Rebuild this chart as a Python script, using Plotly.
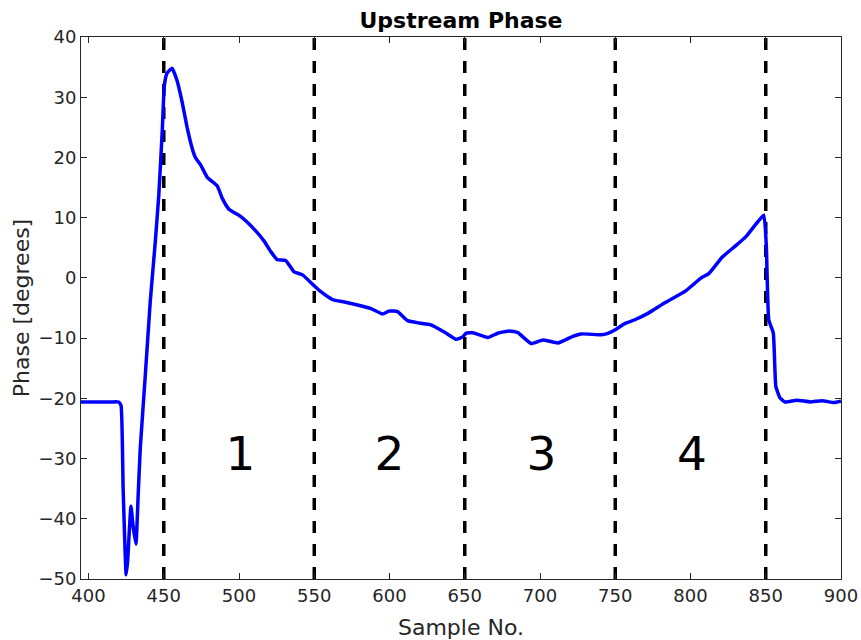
import plotly.graph_objects as go

# Curve data (sample number, phase in degrees)
sample_no = [395, 405, 415, 420, 421.6, 423, 425, 426, 428.2, 429.5, 431.5, 433, 434.4, 437.8,
             441, 444.4, 446.7, 449, 450.4, 452.2, 455.5, 458.9, 462.2, 465.5, 468.9, 471,
             474.4, 478.9, 485.5, 488.9, 493.3, 501, 510, 516.7, 521, 525.5, 531, 536.6,
             542.2, 549.5, 554.4, 562.1, 570, 578.8, 587.7, 595.4, 599.8, 605.4, 612, 619.8,
             627.5, 636.4, 644.2, 648.6, 650.8, 655.3, 665.3, 671.9, 679.7, 685.3, 694.1,
             701.9, 711.9, 721.8, 727.4, 740.7, 745.1, 750, 756.3, 763, 772, 783.2, 796.6,
             806.7, 812.3, 821.3, 830.3, 837, 843.7, 848.7, 850.4, 852, 855, 856.7, 859.4,
             862.8, 870.6, 879.6, 887.4, 895.3, 900]
phase = [-20.6, -20.6, -20.6, -20.6, -21.2, -35, -49.3, -47, -37.9, -41, -44.2, -36, -28.2, -15.9,
         -4, 6.1, 13.8, 24.5, 32, 34, 34.8, 32.7, 29.2, 25, 21.5, 20,
         18.8, 16.7, 15.3, 13.2, 11.4, 10.2, 8.1, 6.1, 4.4, 3.0, 2.9, 1.0,
         0.5, -1.2, -2.3, -3.6, -4.0, -4.5, -5.1, -6.0, -5.5, -5.6, -7.1, -7.5,
         -7.8, -9.0, -10.2, -9.8, -9.2, -9.1, -9.9, -9.2, -8.8, -9.1, -10.9,
         -10.3, -10.8, -9.7, -9.3, -9.45, -9.2, -8.6, -7.6, -6.95, -5.85, -4.1, -2.2,
         -0.07, 0.75, 3.5, 5.4, 6.9, 9.0, 10.4, 5.2, -6.95, -9.15, -18.0, -19.9,
         -20.6, -20.3, -20.6, -20.4, -20.7, -20.5]

# Segment boundaries (vertical dashed lines)
boundaries = [450, 550, 650, 750, 850]
y_limits = [-50, 40]

# Segment labels
seg_labels = ["1", "2", "3", "4"]
seg_label_x = [501, 600, 701, 801]
seg_label_y = [-30.0, -30.0, -30.0, -30.0]

x_ticks = [400, 450, 500, 550, 600, 650, 700, 750, 800, 850, 900]
y_ticks = [-50, -40, -30, -20, -10, 0, 10, 20, 30, 40]

FONT = "DejaVu Sans"
AX = "#262626"

fig = go.Figure()

for b in boundaries:
    fig.add_trace(go.Scatter(
        x=[b, b], y=[y_limits[0], y_limits[1]], mode="lines",
        line=dict(color="black", width=3.5, dash="12px,11px"),
        hoverinfo="skip", showlegend=False))

fig.add_trace(go.Scatter(
    x=sample_no, y=phase, mode="lines",
    line=dict(color="#0000ff", width=3.5, shape="spline", smoothing=0.4),
    showlegend=False))

fig.add_trace(go.Scatter(
    x=seg_label_x, y=seg_label_y, mode="text", text=seg_labels,
    textfont=dict(family=FONT, size=47, color="black"),
    textposition="middle center", showlegend=False, hoverinfo="skip"))

fig.update_layout(
    width=861, height=640,
    margin=dict(l=81, r=20, t=37, b=61),
    paper_bgcolor="white", plot_bgcolor="white",
    font=dict(family=FONT, color=AX, size=18),
    title=dict(text="<b>Upstream Phase</b>", x=0.5, xref="paper", xanchor="center",
               y=1 - 20/640, yanchor="middle",
               font=dict(family=FONT, size=22, color="black")),
    xaxis=dict(range=[395, 900], tickvals=x_ticks, ticks="inside", ticklen=6,
               tickcolor=AX, showline=True, linecolor=AX, linewidth=1, mirror="ticks",
               showgrid=False, zeroline=False, automargin=False,
               tickfont=dict(family=FONT, size=18, color=AX),
               title=dict(text="Sample No.", font=dict(family=FONT, size=22, color=AX), standoff=15)),
    yaxis=dict(range=y_limits, tickvals=y_ticks, ticks="inside", ticklen=6,
               tickcolor=AX, showline=True, linecolor=AX, linewidth=1, mirror="ticks",
               showgrid=False, zeroline=False, automargin=False,
               tickfont=dict(family=FONT, size=18, color=AX),
               title=dict(text="Phase [degrees]", font=dict(family=FONT, size=22, color=AX), standoff=2)),
)

fig.write_html("out.html")
